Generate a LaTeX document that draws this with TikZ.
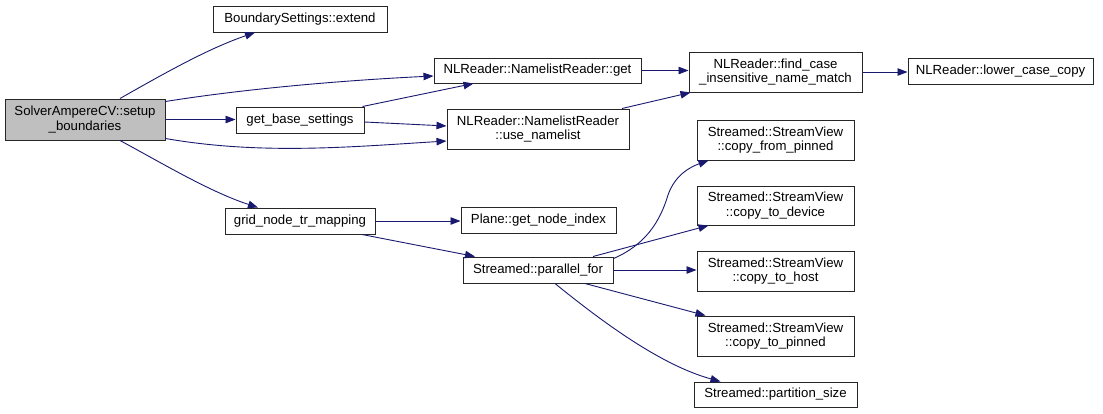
\documentclass[tikz,border=0pt]{standalone}
\usepackage{fontspec}
\setmainfont{Liberation Sans}
\usetikzlibrary{arrows.meta}
\definecolor{edgec}{HTML}{191970}
\definecolor{rootfill}{HTML}{BFBFBF}
\begin{document}
\begin{tikzpicture}[x=1pt,y=-1pt,
  box/.style={draw=black!85, line width=1pt, fill=white, rectangle, inner sep=0pt, align=center,
    font=\fontsize{13.2}{14.6}\selectfont},
  edge/.style={draw=edgec, line width=0.9pt, -{Triangle[length=10pt,width=7.5pt]}}]
\useasboundingbox (0,0) rectangle (1103,413);
\fill[white] (0,0) rectangle (1103,413);
\node[box, fill=rootfill, minimum width=160, minimum height=41] (root) at (85,119.5) {SolverAmpereCV::setup\\\_boundaries};
\node[box, minimum width=174, minimum height=26] (extend) at (300,19) {BoundarySettings::extend};
\node[box, minimum width=128, minimum height=26] (gbs) at (300,120) {get\_base\_settings};
\node[box, minimum width=150, minimum height=26] (grid) at (300,221) {grid\_node\_tr\_mapping};
\node[box, minimum width=207, minimum height=25] (nlget) at (537.5,70.5) {NLReader::NamelistReader::get};
\node[box, minimum width=182, minimum height=40] (use) at (538,129) {NLReader::NamelistReader\\::use\_namelist};
\node[box, minimum width=173, minimum height=40] (find) at (775.5,72) {NLReader::find\_case\\\_insensitive\_name\_match};
\node[box, minimum width=185, minimum height=26] (lower) at (1000.5,71) {NLReader::lower\_case\_copy};
\node[box, minimum width=157, minimum height=40] (cfp) at (775.5,140) {Streamed::StreamView\\::copy\_from\_pinned};
\node[box, minimum width=157, minimum height=39] (ctd) at (775.5,205.5) {Streamed::StreamView\\::copy\_to\_device};
\node[box, minimum width=157, minimum height=40] (cth) at (775.5,271) {Streamed::StreamView\\::copy\_to\_host};
\node[box, minimum width=157, minimum height=40] (ctp) at (775.5,336) {Streamed::StreamView\\::copy\_to\_pinned};
\node[box, minimum width=163, minimum height=25] (ps) at (775.5,394.5) {Streamed::partition\_size};
\node[box, minimum width=155, minimum height=26] (plane) at (538.5,220) {Plane::get\_node\_index};
\node[box, minimum width=150, minimum height=26] (pf) at (538,270) {Streamed::parallel\_for};

\draw[edge] ([xshift=35]root.north) .. controls (170,70) and (210,48) .. ([xshift=-45]extend.south);
\draw[edge] ([yshift=-3]root.north east) .. controls (250,88) and (350,80) .. ([yshift=-5.5]nlget.west);
\draw[edge] (root.east) -- (root.east -| gbs.west);
\draw[edge] ([yshift=2]root.south east) .. controls (260,155) and (350,147) .. ([yshift=-12]use.west);
\draw[edge] ([xshift=35]root.south) .. controls (160,162) and (210,192) .. ([xshift=-42]grid.north);
\draw[edge] ([xshift=-2]gbs.north east) -- ([xshift=-64]nlget.south);
\draw[edge] ([yshift=-2]gbs.east) -- ([yshift=3]use.west);
\draw[edge] (nlget.east) -- (nlget.east -| find.west);
\draw[edge] ([xshift=84]use.north) -- ([xshift=-85]find.south);
\draw[edge] (find.east) -- (find.east -| lower.west);
\draw[edge] (grid.east) -- (grid.east -| plane.west);
\draw[edge] ([xshift=62]grid.south) -- ([xshift=-63]pf.north);
\draw[edge] ([yshift=-2]pf.north east) .. controls (645,245) and (660,222) .. (668,195) .. controls (675,175) and (690,167) .. ([xshift=-67]cfp.south);
\draw[edge] ([xshift=55]pf.north) -- ([xshift=-67]ctd.south);
\draw[edge] (pf.east) -- (pf.east -| cth.west);
\draw[edge] ([xshift=47]pf.south) -- ([xshift=-70]ctp.north);
\draw[edge] ([xshift=17]pf.south) .. controls (600,320) and (660,365) .. ([xshift=-55]ps.north);
\end{tikzpicture}
\end{document}
